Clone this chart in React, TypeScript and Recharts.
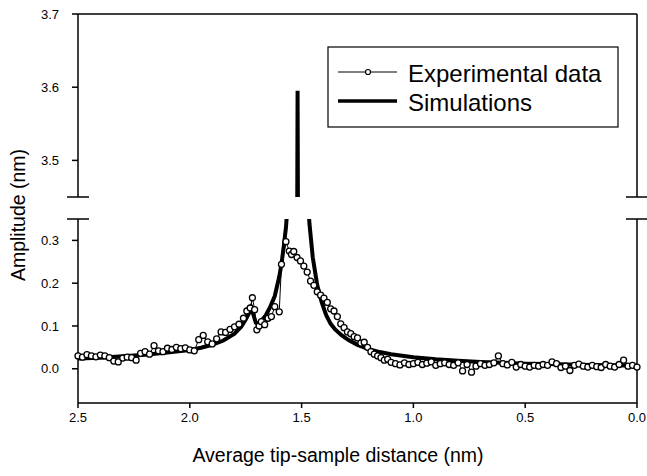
import React from 'react';
import { LineChart, Line, XAxis, YAxis, ReferenceLine } from 'recharts';

// [distance (nm), amplitude (nm)]
const EXPERIMENTAL: [number, number][] = [
  [2.5, 0.03], [2.48, 0.027], [2.46, 0.033], [2.44, 0.03], [2.42, 0.028], [2.4, 0.032],
  [2.38, 0.03], [2.36, 0.026], [2.34, 0.018], [2.32, 0.016], [2.3, 0.025], [2.28, 0.027],
  [2.26, 0.026], [2.24, 0.02], [2.22, 0.036], [2.2, 0.04], [2.18, 0.034], [2.16, 0.054],
  [2.14, 0.042], [2.12, 0.04], [2.1, 0.048], [2.08, 0.045], [2.06, 0.05], [2.04, 0.047],
  [2.02, 0.049], [2.0, 0.044], [1.98, 0.042], [1.96, 0.068], [1.94, 0.078], [1.92, 0.063],
  [1.9, 0.058], [1.88, 0.07], [1.86, 0.086], [1.84, 0.085], [1.82, 0.092], [1.8, 0.098],
  [1.78, 0.104], [1.76, 0.118], [1.745, 0.135], [1.73, 0.142], [1.72, 0.166], [1.71, 0.138],
  [1.7, 0.091], [1.69, 0.1], [1.68, 0.11], [1.665, 0.103], [1.65, 0.118], [1.635, 0.122],
  [1.62, 0.145], [1.6, 0.133], [1.59, 0.244], [1.57, 0.297], [1.555, 0.275], [1.545, 0.267],
  [1.535, 0.274], [1.52, 0.26], [1.505, 0.252], [1.49, 0.24], [1.475, 0.226], [1.46, 0.205],
  [1.445, 0.195], [1.43, 0.18], [1.415, 0.172], [1.4, 0.165], [1.385, 0.155], [1.37, 0.14],
  [1.355, 0.135], [1.34, 0.122], [1.325, 0.105], [1.31, 0.096], [1.295, 0.086], [1.28, 0.082],
  [1.265, 0.075], [1.25, 0.072], [1.235, 0.06], [1.22, 0.062], [1.205, 0.05], [1.19, 0.04],
  [1.175, 0.034], [1.16, 0.03], [1.145, 0.026], [1.13, 0.02], [1.115, 0.022], [1.1, 0.015],
  [1.08, 0.012], [1.06, 0.009], [1.04, 0.014], [1.02, 0.01], [1.0, 0.012], [0.98, 0.015],
  [0.96, 0.01], [0.94, 0.013], [0.92, 0.016], [0.9, 0.008], [0.88, 0.012], [0.86, 0.014],
  [0.84, 0.01], [0.82, 0.008], [0.8, 0.014], [0.78, -0.005], [0.76, 0.01], [0.74, -0.008],
  [0.72, 0.006], [0.7, 0.012], [0.68, 0.008], [0.66, 0.01], [0.64, 0.014], [0.62, 0.03],
  [0.6, 0.012], [0.58, 0.009], [0.56, 0.015], [0.54, 0.004], [0.52, 0.01], [0.5, 0.006],
  [0.48, 0.004], [0.46, 0.008], [0.44, 0.006], [0.42, 0.01], [0.4, 0.008], [0.38, 0.016],
  [0.36, 0.012], [0.34, 0.003], [0.32, 0.006], [0.3, -0.004], [0.28, 0.008], [0.26, 0.011],
  [0.24, 0.006], [0.22, 0.004], [0.2, 0.008], [0.18, 0.005], [0.16, 0.003], [0.14, 0.01],
  [0.12, 0.006], [0.1, 0.004], [0.08, 0.01], [0.06, 0.02], [0.04, 0.006], [0.02, 0.008],
  [0.0, 0.004],
];

const SIMULATION: [number, number][] = [
  [2.5, 0.024], [2.4, 0.026], [2.3, 0.029], [2.2, 0.033], [2.1, 0.038], [2.0, 0.044],
  [1.95, 0.049], [1.9, 0.056], [1.85, 0.066], [1.8, 0.082], [1.77, 0.098], [1.75, 0.115],
  [1.735, 0.13], [1.725, 0.142], [1.715, 0.125], [1.705, 0.108], [1.695, 0.105], [1.68, 0.112],
  [1.66, 0.125], [1.64, 0.145], [1.62, 0.17], [1.6, 0.215], [1.59, 0.245], [1.58, 0.285],
  [1.57, 0.33], [1.56, 0.4], [1.55, 0.55], [1.54, 0.9], [1.53, 1.8], [1.522, 3.2],
  [1.518, 3.595], [1.514, 3.2], [1.505, 1.5], [1.495, 0.9], [1.485, 0.6], [1.475, 0.42],
  [1.465, 0.34], [1.45, 0.26], [1.43, 0.195], [1.41, 0.155], [1.39, 0.125], [1.37, 0.105],
  [1.35, 0.092], [1.32, 0.078], [1.29, 0.067], [1.25, 0.056], [1.2, 0.046], [1.15, 0.039],
  [1.1, 0.034], [1.0, 0.027], [0.9, 0.022], [0.8, 0.019], [0.7, 0.016], [0.6, 0.014],
  [0.5, 0.012], [0.4, 0.011], [0.3, 0.01], [0.2, 0.009], [0.1, 0.008], [0.0, 0.007],
];

const X_TICKS = [2.5, 2.0, 1.5, 1.0, 0.5, 0.0];
const UPPER_TICKS = [3.5, 3.6, 3.7];
const LOWER_TICKS = [0.0, 0.1, 0.2, 0.3];
const X_DOMAIN: [number, number] = [0, 2.5];
const UPPER_DOMAIN: [number, number] = [3.45, 3.7];
const LOWER_DOMAIN: [number, number] = [-0.08, 0.35];

const expData = EXPERIMENTAL.map(([d, a]) => ({ d, a }));
const simData = SIMULATION.map(([d, a]) => ({ d, a }));

const FONT = 'Arial, "Liberation Sans", sans-serif';
const AXIS = { stroke: '#000', strokeWidth: 1.5 };
const TICK = { fill: '#000', fontSize: 13, fontFamily: FONT };
const fmt = (v: number) => v.toFixed(1);

export default function App() {
  return (
    <div style={{ position: 'absolute', left: 0, top: 0, width: 647, height: 476, background: '#fff' }}>
      {/* upper panel (3.45 - 3.7) */}
      <div style={{ position: 'absolute', left: 0, top: 0 }}>
        <LineChart width={647} height={200} margin={{ top: 14, right: 0, bottom: 3, left: 0 }}>
          <XAxis dataKey="d" type="number" domain={X_DOMAIN} reversed hide allowDataOverflow />
          <YAxis
            yAxisId="l"
            type="number"
            width={78}
            domain={UPPER_DOMAIN}
            ticks={UPPER_TICKS}
            allowDataOverflow
            tickSize={6}
            tickMargin={13}
            tick={TICK}
            tickFormatter={fmt}
            axisLine={AXIS}
            tickLine={AXIS}
          />
          <YAxis yAxisId="r" orientation="right" type="number" width={10} domain={UPPER_DOMAIN}
            allowDataOverflow tick={false} tickLine={false} axisLine={AXIS} />
          <ReferenceLine yAxisId="l" y={3.7} stroke="#000" strokeWidth={1.5} />
          <Line yAxisId="l" data={simData} dataKey="a" type="linear" stroke="#000"
            strokeWidth={4} dot={false} isAnimationActive={false} />
        </LineChart>
      </div>

      {/* lower panel (-0.08 - 0.35) */}
      <div style={{ position: 'absolute', left: 0, top: 200 }}>
        <LineChart width={647} height={276} margin={{ top: 19, right: 0, bottom: 0, left: 0 }}>
          <XAxis
            dataKey="d"
            type="number"
            domain={X_DOMAIN}
            reversed
            ticks={X_TICKS}
            height={73}
            tickSize={5}
            tickMargin={5}
            tick={TICK}
            tickFormatter={fmt}
            axisLine={AXIS}
            tickLine={AXIS}
          />
          <YAxis
            yAxisId="l"
            type="number"
            width={78}
            domain={LOWER_DOMAIN}
            ticks={LOWER_TICKS}
            allowDataOverflow
            tickSize={6}
            tickMargin={13}
            tick={TICK}
            tickFormatter={fmt}
            axisLine={AXIS}
            tickLine={AXIS}
          />
          <YAxis yAxisId="r" orientation="right" type="number" width={10} domain={LOWER_DOMAIN}
            allowDataOverflow tick={false} tickLine={false} axisLine={AXIS} />
          <Line yAxisId="l" data={simData} dataKey="a" type="linear" stroke="#000"
            strokeWidth={4} dot={false} isAnimationActive={false} />
          <Line yAxisId="l" data={expData} dataKey="a" type="linear" stroke="#000" strokeWidth={1}
            dot={{ r: 3, fill: '#fff', stroke: '#000', strokeWidth: 1.3 }} isAnimationActive={false} />
        </LineChart>
      </div>

      {/* axis titles, break marks, legend */}
      <svg width={647} height={476} style={{ position: 'absolute', left: 0, top: 0, pointerEvents: 'none' }}>
        <text transform="translate(18,215) rotate(-90)" textAnchor="middle" dominantBaseline="central"
          fontSize={19.5} fontFamily={FONT} fill="#000">Amplitude (nm)</text>
        <text x={338} y={455} textAnchor="middle" dominantBaseline="central"
          fontSize={19.5} fontFamily={FONT} fill="#000">Average tip-sample distance (nm)</text>
        <g stroke="#000" strokeWidth={1.5}>
          <line x1={67} y1={197} x2={89} y2={197} />
          <line x1={67} y1={219} x2={89} y2={219} />
          <line x1={626} y1={197} x2={647} y2={197} />
          <line x1={626} y1={219} x2={647} y2={219} />
        </g>
        <rect x={328} y={47} width={290} height={80} fill="#fff" stroke="#000" strokeWidth={1.2} />
        <line x1={338} y1={72} x2={397} y2={72} stroke="#000" strokeWidth={1} />
        <circle cx={368} cy={72} r={2.5} fill="#fff" stroke="#000" strokeWidth={1.2} />
        <text x={408} y={73} dominantBaseline="central" fontSize={24} fontFamily={FONT} fill="#000">Experimental data</text>
        <line x1={338} y1={101} x2={397} y2={101} stroke="#000" strokeWidth={3.5} />
        <text x={408} y={102} dominantBaseline="central" fontSize={24} fontFamily={FONT} fill="#000">Simulations</text>
      </svg>
    </div>
  );
}
